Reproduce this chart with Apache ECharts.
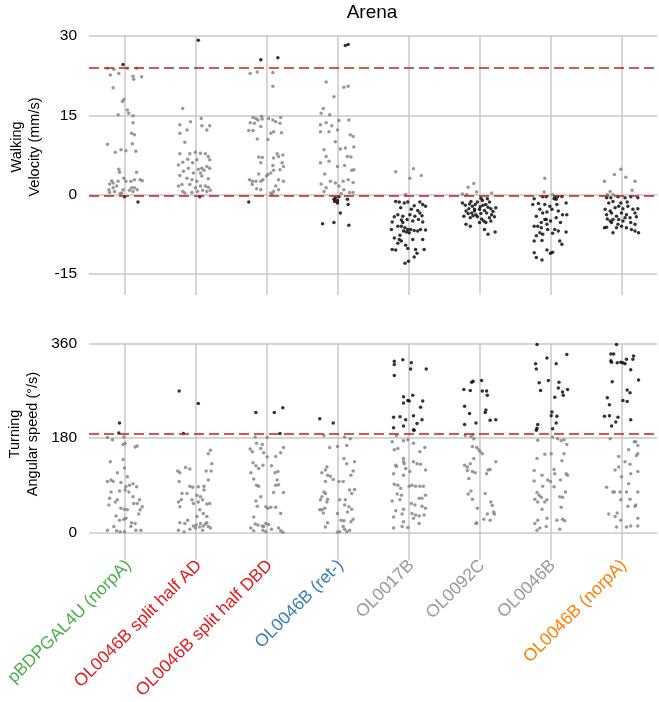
<!DOCTYPE html>
<html><head><meta charset="utf-8">
<script src="https://cdn.jsdelivr.net/npm/echarts@6/dist/echarts.min.js"></script>
<style>html,body{margin:0;padding:0;background:#fff}#c{width:659px;height:702px}</style>
</head><body><div id="c"></div>
<script>
const categories = ['pBDPGAL4U (norpA)','OL0046B split half AD','OL0046B split half DBD','OL0046B (ret-)','OL0017B','OL0092C','OL0046B','OL0046B (norpA)'];
const labelColors = ['#4DAF4A','#E41A1C','#E41A1C','#377EB8','#999999','#999999','#999999','#FF7F00'];
const walkTicks = [-15, 0, 15, 30];
const turnTicks = [0, 180, 360];
const walkThresholds = [24, -0.3];
const turnThresholds = [188];

// each point: [jitter offset in category units, value]
const walk0 = [[-0.02,24.6],[0.19,-1.4],[0,-0.4],[-0.24,23.9],[-0.2,22.6],[-0.15,23.7],[-0.08,22.9],[0.04,23.9],[0.12,22.4],[0.13,21.8],[0.17,23.9],[0.24,22.3],[-0.16,20.2],[-0.03,17.6],[-0.01,18.0],[-0.09,15.1],[0.04,16.0],[0.06,15.4],[0.12,14.9],[0.12,13.6],[0.1,11.6],[0.14,11.3],[0.11,9.6],[-0.24,9.5],[-0.13,8.0],[-0.05,8.5],[0.02,8.3],[0.16,8.2],[-0.08,4.8],[-0.07,4.2],[0.17,4.2],[-0.18,2.6],[-0.16,2.2],[-0.21,2.0],[-0.09,2.5],[-0.01,3.1],[0.02,2.5],[0.09,2.5],[0.14,2.8],[0.22,2.8],[0.25,2.6],[-0.22,0.9],[-0.21,0.4],[-0.16,1.3],[-0.14,0.6],[-0.11,1.6],[-0.04,0.3],[-0.02,0.9],[0.07,0.8],[0.12,0.6],[0.14,1.3],[0.18,0.9],[-0.06,0.2],[0.1,1.3]];
const walk1 = [[0.04,29.2],[0.06,-0.4],[-0.18,16.3],[-0.22,13.2],[-0.07,13.8],[0.08,14.4],[0.09,13.0],[0.2,13.0],[0.16,12.2],[-0.12,12.2],[-0.22,11.6],[-0.15,9.9],[-0.22,7.7],[-0.08,7.7],[0,8.0],[0.07,7.8],[0.14,7.7],[0.18,7.2],[0.2,6.6],[-0.24,5.6],[-0.18,6.1],[-0.11,6.7],[-0.04,6.0],[0.02,6.6],[0.09,5.0],[0.16,5.3],[0.2,5.0],[-0.17,4.4],[-0.1,5.0],[-0.03,4.1],[0.04,4.8],[0.07,4.1],[0.12,4.6],[-0.22,3.6],[-0.12,3.1],[-0.05,2.8],[0.02,2.5],[0.09,3.5],[0.18,3.0],[-0.19,1.9],[-0.08,1.9],[0,1.3],[0.07,1.6],[0.14,1.6],[0.18,1.4],[-0.18,0.6],[-0.05,0.4],[0.03,0.6],[0.1,0.8],[0.16,0.6],[0.21,0.8],[-0.15,0.3],[-0.24,1.6]];
const walk2 = [[-0.08,25.5],[0.16,25.9],[-0.25,-1.4],[-0.23,22.9],[-0.13,23.2],[0.09,23.1],[0.09,20.5],[-0.19,14.6],[-0.15,14.4],[-0.12,14.1],[-0.07,14.8],[-0.06,14.3],[0.03,14.4],[0.09,14.1],[0.2,14.6],[-0.23,13.6],[-0.17,13.5],[-0.08,12.9],[0.13,13.8],[0.19,13.5],[-0.25,12.1],[-0.19,12.1],[0.06,11.6],[0.1,11.9],[0.21,11.7],[-0.13,10.5],[0.02,10.4],[-0.11,7.1],[-0.06,7.0],[-0.08,6.0],[0.1,6.9],[0.15,7.7],[0.17,7.2],[0.23,7.5],[0.09,5.5],[0.22,6.0],[0.24,5.3],[0.19,4.7],[0.1,4.6],[0.06,4.1],[0.02,3.8],[-0.11,3.9],[-0.24,2.8],[-0.2,2.5],[-0.15,2.5],[-0.08,2.5],[-0.05,2.8],[0,3.5],[0.17,2.8],[0.24,2.5],[-0.14,1.1],[-0.08,0.9],[0.06,0.3],[0.1,0.6],[0.17,0.9],[-0.2,1.9],[0.13,1.6],[0.08,0.05]];
const walk3 = [[0.11,28.2],[0.15,28.4],[-0.05,-0.9],[-0.03,-0.6],[0,-1.1],[0.02,-0.4],[-0.04,-1.3],[0.14,-0.9],[0.15,-1.9],[0.04,-3.5],[-0.21,-5.5],[-0.05,-5.3],[0.16,-5.8],[0,-1.6],[-0.16,21.3],[-0.05,18.5],[0.09,20.3],[0.15,20.5],[-0.2,16.3],[-0.23,15.4],[-0.11,15.1],[0.02,14.0],[-0.24,13.2],[-0.16,13.6],[-0.08,13.0],[0.16,14.1],[0,12.2],[0.18,11.3],[0.22,11.0],[-0.24,11.9],[-0.12,11.9],[-0.03,10.0],[-0.19,8.5],[0.04,8.6],[0.11,8.8],[0.23,9.0],[-0.16,7.2],[0.14,7.2],[0.19,7.1],[-0.24,6.0],[-0.12,6.3],[0,5.3],[0.1,5.5],[0.2,4.6],[0.23,4.7],[-0.18,3.9],[-0.1,2.5],[-0.03,2.2],[0.08,2.5],[0.15,2.8],[0.22,2.3],[-0.23,2.0],[-0.16,1.3],[0.02,1.6],[0.09,0.9],[0.17,0.4],[0.22,0.4],[-0.19,0.6],[0.05,0.2]];
const walk4 = [[-0.18,4.3],[0.07,4.9],[0.02,3.1],[0.18,3.6],[-0.04,0],[-0.18,-1.3],[-0.13,-1.4],[-0.06,-1.6],[-0.01,-1.4],[0.16,-1.4],[0.2,-1.9],[0.24,-2.2],[0.08,-2.1],[-0.11,-2.5],[0.04,-2.8],[0.13,-3.0],[0.16,-3.5],[-0.2,-4.2],[-0.15,-3.8],[-0.08,-4.1],[0.02,-3.8],[0.09,-4.1],[0.19,-4.0],[-0.23,-5.2],[-0.1,-4.8],[-0.02,-4.7],[0.06,-5.0],[0.14,-4.7],[0.2,-5.2],[-0.15,-6.0],[-0.1,-6.0],[-0.05,-6.3],[-0.01,-6.6],[0.03,-6.6],[0.08,-6.8],[0.13,-6.9],[0.17,-6.6],[0.24,-6.7],[-0.24,-6.6],[-0.07,-6.9],[-0.03,-7.1],[-0.12,-7.7],[0.06,-8.5],[0.2,-8.5],[-0.2,-8.2],[-0.13,-8.5],[-0.1,-8.8],[-0.15,-9.2],[-0.04,-9.6],[-0.23,-10.4],[-0.18,-10.5],[-0.01,-10.2],[0.1,-10.4],[0.22,-10.4],[0.12,-11.1],[0.08,-11.8],[0,-12.6],[-0.05,-13.0],[0.01,-7.2],[-0.08,-5.3]];
const walk5 = [[-0.24,0.1],[-0.16,1.4],[-0.08,2.1],[-0.04,0.5],[-0.18,0],[0.17,0.3],[-0.24,-1.6],[-0.12,-1.3],[-0.03,-1.4],[0.04,-1.1],[0.11,-0.8],[0.14,-1.4],[0.09,-1.9],[-0.1,-2.2],[-0.15,-2.7],[-0.19,-3.1],[-0.07,-3.1],[0,-2.8],[0.07,-3.0],[0.16,-2.7],[0.23,-2.5],[-0.16,-3.6],[-0.11,-3.5],[-0.05,-3.8],[0.02,-3.6],[0.1,-3.5],[0.17,-3.8],[-0.22,-4.1],[-0.13,-4.4],[-0.03,-4.2],[0.03,-4.6],[0.14,-4.4],[0.21,-4.2],[0.06,-5.0],[0.16,-5.0],[0.09,-5.3],[-0.19,-5.6],[-0.13,-6.0],[0,-5.3],[0.07,-6.6],[0.12,-7.5],[0.22,-7.1],[-0.07,-2.8],[0.01,-2.3],[-0.2,-2.0],[-0.06,-1.9],[0.05,-2.0],[0.12,-2.4],[-0.09,-4.0],[0.19,-3.2],[-0.14,-1.8],[0.02,-0.7]];
const walk6 = [[-0.08,3.1],[-0.09,0.5],[0.03,0],[-0.23,-0.8],[-0.11,-0.4],[-0.06,-0.4],[0.06,-0.4],[0.1,-0.4],[0.16,-0.35],[0.05,-0.8],[0.08,-0.9],[-0.25,-1.9],[-0.17,-1.7],[-0.08,-1.9],[-0.01,-2.2],[0.09,-1.9],[0.22,-1.6],[-0.15,-2.8],[-0.11,-3.5],[-0.05,-3.3],[0.02,-2.8],[0.11,-3.1],[0.17,-3.8],[0.23,-3.8],[-0.2,-4.1],[-0.08,-4.7],[0,-5.0],[0.08,-4.4],[0.14,-5.3],[-0.23,-6.0],[-0.18,-6.0],[-0.13,-6.3],[-0.05,-5.6],[0.06,-6.6],[0.11,-6.9],[0.22,-7.1],[-0.15,-7.2],[-0.11,-7.5],[-0.2,-7.8],[-0.04,-6.6],[0.03,-7.3],[-0.23,-8.8],[-0.12,-8.7],[0.13,-8.8],[0.16,-9.4],[-0.05,-10.5],[0,-11.1],[0.03,-10.9],[-0.23,-11.0],[-0.2,-11.9],[-0.12,-12.4],[-0.06,-4.7],[-0.13,-5.3]];
const walk7 = [[-0.24,2.5],[-0.1,3.8],[-0.01,4.8],[0.06,3.3],[0.19,2.5],[0.15,0.8],[-0.16,0.6],[-0.2,0],[-0.12,0],[-0.21,-0.6],[-0.15,-0.6],[-0.05,-0.4],[0.05,-0.6],[0.13,-0.4],[0.23,-0.6],[-0.18,-1.6],[-0.12,-1.3],[-0.01,-1.6],[0.08,-1.4],[-0.23,-2.8],[-0.16,-3.1],[-0.09,-2.5],[-0.04,-2.2],[0.02,-2.7],[0.09,-2.2],[0.16,-2.8],[0.23,-2.7],[-0.21,-3.8],[-0.14,-3.5],[-0.07,-4.1],[0,-3.5],[0.07,-3.8],[0.19,-3.5],[-0.2,-4.6],[-0.12,-4.7],[-0.04,-4.7],[0.05,-4.4],[0.12,-4.4],[0.21,-4.2],[-0.14,-5.3],[-0.05,-5.6],[0.02,-5.0],[0.13,-5.3],[0.19,-5.6],[-0.24,-6.3],[-0.21,-6.2],[-0.07,-6.3],[0,-6.0],[0.07,-6.3],[0.14,-6.6],[-0.12,-7.2],[0.19,-6.9],[0.24,-7.2],[-0.16,-5.0]];

const turn0 = [[-0.07,209],[-0.08,190],[-0.24,181],[-0.17,177],[-0.01,182],[-0.02,168],[0.01,170],[0.15,163],[0.18,165],[-0.2,135],[-0.02,139],[0,123],[-0.1,114],[-0.24,97],[-0.19,100],[-0.16,97],[-0.05,95],[0.02,87],[0.07,90],[0.12,93],[0.17,87],[-0.19,77],[-0.07,79],[0.01,81],[0.06,77],[-0.21,65],[-0.13,58],[-0.22,52],[0.13,55],[0.18,55],[0.21,62],[-0.05,46],[0,44],[0.04,43],[0.22,43],[0.25,49],[-0.12,31],[-0.07,23],[-0.01,25],[0.02,27],[0.1,18],[0.15,17],[0.09,11],[0.16,4],[0.23,4],[-0.24,4],[-0.11,3],[-0.06,1],[0,1],[-0.15,11],[0.2,35],[0.12,68],[-0.1,62],[0.04,106]];
const turn1 = [[-0.23,270],[0.04,246],[-0.17,189],[0.21,157],[0.18,150],[0.23,131],[0.15,117],[0.22,117],[-0.25,117],[-0.22,114],[-0.14,124],[-0.08,121],[0.18,100],[-0.08,88],[-0.04,86],[0.04,87],[0.12,88],[0.12,81],[-0.23,97],[-0.19,74],[-0.12,74],[0.02,71],[0.07,68],[-0.05,62],[-0.03,55],[0.04,58],[0.1,62],[0.16,54],[-0.24,58],[-0.2,62],[-0.22,49],[0.2,55],[0.06,43],[0.11,36],[0.02,30],[0.16,30],[-0.22,18],[-0.15,17],[-0.11,23],[-0.03,12],[0.01,14],[0.07,17],[0.11,12],[0.16,18],[0.18,11],[0.14,16],[-0.24,4],[-0.16,1],[-0.08,6],[0,8],[0.06,10],[0.21,8],[0.1,4]];
const turn2 = [[-0.15,229],[0.11,229],[0.23,238],[0.19,189],[-0.16,182],[0.01,181],[-0.14,170],[-0.06,168],[-0.23,159],[-0.2,154],[-0.08,160],[-0.04,152],[0.24,162],[0.2,152],[0.13,145],[0.01,144],[-0.19,133],[-0.15,127],[-0.05,128],[-0.11,122],[-0.22,114],[0.07,127],[0.16,116],[0.12,114],[-0.18,102],[0.15,100],[0.17,91],[-0.14,90],[-0.11,88],[0.13,90],[0.1,76],[0.24,76],[-0.08,68],[-0.15,60],[-0.13,50],[-0.01,49],[0.02,46],[0.06,48],[0.13,48],[0.2,36],[-0.18,29],[-0.16,16],[-0.12,14],[-0.06,12],[-0.01,17],[0.03,15],[0.07,6],[-0.22,8],[-0.18,3],[-0.05,4],[-0.01,1],[0.17,8],[0.2,3],[0.23,0],[-0.04,11]];
const turn3 = [[-0.25,217],[-0.06,209],[-0.19,185],[0.1,182],[0.18,179],[0.13,166],[-0.11,162],[0,164],[0.09,141],[0.24,135],[0.13,131],[-0.15,125],[-0.17,119],[-0.22,114],[-0.14,109],[-0.1,107],[-0.17,97],[-0.06,101],[0.02,97],[0.08,97],[0.19,109],[0.22,117],[0.17,81],[0.24,82],[0.2,74],[-0.19,77],[-0.17,74],[-0.22,68],[-0.14,63],[-0.24,62],[-0.15,58],[-0.18,46],[-0.22,43],[-0.25,43],[-0.2,37],[0.03,62],[0.11,62],[0.1,52],[0.16,49],[0.2,44],[0.14,39],[0,36],[0.05,23],[0.09,22],[0.19,20],[0.22,25],[-0.14,18],[-0.17,10],[0,0],[0.03,1],[0.1,6],[0.13,1],[0.08,11],[0.17,4]];
const turn4 = [[-0.2,327],[-0.2,321],[-0.08,330],[0.04,324],[0.03,312],[0.25,312],[-0.2,300],[0.06,262],[-0.07,259],[-0.01,252],[-0.07,247],[0.01,251],[0.2,251],[0.17,239],[-0.21,220],[-0.12,221],[-0.04,215],[0.07,223],[0.19,215],[0.12,208],[-0.21,200],[-0.07,203],[0.07,196],[0.08,195],[-0.23,173],[-0.17,185],[-0.07,175],[-0.01,177],[0.07,170],[-0.2,158],[-0.15,160],[0.16,154],[0.23,162],[-0.07,141],[-0.07,135],[-0.06,131],[0.07,135],[0.12,131],[0.17,130],[-0.18,128],[-0.17,126],[0.24,119],[-0.04,122],[0.02,116],[-0.07,109],[-0.21,112],[-0.2,92],[-0.15,90],[-0.11,84],[0.01,88],[0.05,90],[0.1,88],[0.16,88],[0.21,88],[-0.16,73],[-0.1,71],[-0.12,62],[-0.23,60],[0.15,65],[0.19,65],[0.24,71],[0.04,55],[0.09,52],[0.19,50],[0.24,46],[-0.18,41],[-0.07,44],[0.05,36],[0.1,33],[0.15,31],[0.22,33],[-0.09,35],[-0.21,29],[0.07,27],[-0.07,20],[0.15,17],[-0.21,8],[-0.09,11],[-0.01,9]];
const turn5 = [[-0.22,273],[-0.13,271],[-0.11,287],[-0.09,289],[0.03,290],[0.04,270],[0.1,270],[0.11,262],[-0.21,241],[0.09,234],[0.08,229],[-0.14,227],[0.15,214],[0.23,215],[-0.05,209],[-0.21,206],[-0.2,185],[-0.12,183],[-0.09,187],[-0.08,179],[-0.1,164],[-0.04,162],[-0.01,158],[0.01,154],[0.04,150],[-0.08,141],[0.23,135],[-0.21,128],[-0.17,125],[-0.13,131],[-0.1,116],[-0.06,114],[-0.17,118],[0.12,119],[0.1,112],[0.15,120],[-0.15,103],[0.08,74],[-0.12,79],[-0.16,73],[-0.1,63],[-0.03,46],[0.16,58],[0.18,51],[0.2,39],[0.21,35],[0.11,35],[0.06,25],[0.15,23],[-0.04,18],[-0.05,17]];
const turn6 = [[-0.19,359],[-0.21,322],[-0.2,312],[-0.05,333],[0.23,340],[0.08,322],[-0.16,286],[-0.03,290],[-0.14,271],[0.12,287],[0.11,276],[0.24,273],[0.17,268],[0.18,262],[0.06,258],[0.02,230],[0.01,223],[0.09,222],[0.08,209],[-0.18,206],[-0.19,199],[-0.2,195],[0.03,198],[-0.18,176],[0.03,182],[0.1,179],[0.15,175],[0.19,177],[0.23,168],[-0.19,141],[-0.08,149],[0.01,150],[0.19,150],[0.16,137],[-0.23,118],[-0.12,109],[-0.04,100],[0,97],[0.05,120],[0.06,112],[0.22,112],[0.24,109],[0.14,100],[-0.23,98],[-0.11,88],[0.05,87],[-0.19,76],[-0.16,71],[-0.13,67],[-0.08,58],[-0.05,62],[-0.22,63],[-0.18,58],[0.13,68],[0.17,67],[0.21,77],[0.15,48],[-0.12,44],[-0.05,27],[0.09,23],[0.17,25],[-0.18,23],[-0.22,17],[-0.15,8],[-0.06,11],[-0.19,4],[0.13,6],[0.2,22]];
const turn7 = [[-0.07,359],[-0.15,341],[-0.11,341],[-0.15,328],[-0.14,325],[-0.06,324],[-0.01,325],[0.02,324],[0.05,322],[0.07,331],[0.16,331],[0.17,337],[0.13,311],[-0.13,288],[0.24,291],[-0.2,257],[-0.17,244],[0.02,252],[0.08,250],[0.08,272],[0.12,267],[-0.24,222],[-0.17,223],[-0.05,220],[-0.08,211],[-0.14,203],[0.13,215],[-0.16,179],[0.2,173],[0.23,166],[-0.04,145],[0.1,158],[0.21,147],[0.23,150],[0.05,135],[0.12,130],[-0.04,125],[-0.09,119],[0.13,112],[0.23,116],[0,106],[0.1,93],[-0.21,86],[-0.12,77],[-0.1,77],[-0.02,77],[0.07,77],[0.23,77],[-0.01,62],[0.09,50],[0.2,52],[-0.18,35],[-0.06,37],[-0.09,30],[-0.01,23],[0.23,27],[-0.07,10],[0.07,10],[0.13,12],[0.23,12],[0.19,50],[0.12,63],[0.18,173]];

const walkSets = [walk0, walk1, walk2, walk3, walk4, walk5, walk6, walk7];
const turnSets = [turn0, turn1, turn2, turn3, turn4, turn5, turn6, turn7];

function toPoints(sets) {
  const out = [];
  sets.forEach((pts, i) => pts.forEach(p => out.push([i + p[0], p[1]])));
  return out;
}

const FONT = "'Liberation Sans', Arial, sans-serif";
const GRID_COLOR = '#c9c9c9';
const RED = '#c62020';
const catIdx = categories.map((_, i) => i);

function valueX(gridIndex) {
  return {
    type: 'value', gridIndex, min: -0.5, max: 7.5,
    axisLine: { show: false },
    axisTick: { show: false, customValues: catIdx },
    axisLabel: { show: false },
    splitLine: { show: true, lineStyle: { color: GRID_COLOR, width: 1.5 } }
  };
}
function valueY(gridIndex, min, max, ticks) {
  return {
    type: 'value', gridIndex, min, max,
    axisLine: { show: false },
    axisTick: { show: false, customValues: ticks },
    axisLabel: { customValues: ticks, fontSize: 15.5, color: '#000', margin: 12, fontFamily: FONT },
    splitLine: { show: true, lineStyle: { color: GRID_COLOR, width: 1.5 } }
  };
}

const chart = echarts.init(document.getElementById('c'), null, { renderer: 'canvas' });
chart.setOption({
  animation: false,
  backgroundColor: '#ffffff',
  title: {
    text: 'Arena', left: 372, top: 3, textAlign: 'center', padding: 0,
    textStyle: { fontFamily: FONT, fontSize: 19, fontWeight: 'normal', color: '#000' }
  },
  grid: [
    { left: 89, top: 36, width: 568, height: 259 },
    { left: 89, top: 344, width: 568, height: 216 },
    { left: 93, top: 344, width: 568, height: 216 }
  ],
  xAxis: [
    valueX(0),
    valueX(1),
    {
      type: 'category', gridIndex: 2, data: categories, position: 'bottom',
      axisLine: { show: false }, axisTick: { show: false }, splitLine: { show: false },
      axisLabel: {
        interval: 0, rotate: 45, margin: 18, fontSize: 17.5, fontFamily: FONT,
        color: (v, i) => labelColors[i]
      }
    }
  ],
  yAxis: [
    valueY(0, -19, 30, walkTicks),
    valueY(1, -53, 360, turnTicks),
    { type: 'value', gridIndex: 2, show: false, min: -53, max: 360, splitLine: { show: false } }
  ],
  graphic: [
    { type: 'text', x: 26, y: 147, rotation: Math.PI / 2,
      style: { text: 'Walking\nVelocity (mm/s)', fontSize: 14.5, fontFamily: FONT, fill: '#000', align: 'center', verticalAlign: 'middle', lineHeight: 18 } },
    { type: 'text', x: 24, y: 434, rotation: Math.PI / 2,
      style: { text: 'Turning\nAngular speed (°/s)', fontSize: 14.5, fontFamily: FONT, fill: '#000', align: 'center', verticalAlign: 'middle', lineHeight: 18 } }
  ],
  series: [
    {
      type: 'scatter', xAxisIndex: 0, yAxisIndex: 0, data: toPoints(walkSets),
      symbolSize: 3.5, silent: true,
      itemStyle: { color: p => (p.value[1] > walkThresholds[0] || p.value[1] < walkThresholds[1]) ? '#000000' : '#7f7f7f' },
      markLine: {
        silent: true, symbol: ['none', 'none'], label: { show: false },
        lineStyle: { color: RED, type: [10, 5], width: 1.5 },
        data: walkThresholds.map(v => ({ yAxis: v }))
      }
    },
    {
      type: 'scatter', xAxisIndex: 1, yAxisIndex: 1, data: toPoints(turnSets),
      symbolSize: 3.5, silent: true,
      itemStyle: { color: p => (p.value[1] > turnThresholds[0]) ? '#000000' : '#7f7f7f' },
      markLine: {
        silent: true, symbol: ['none', 'none'], label: { show: false },
        lineStyle: { color: RED, type: [10, 5], width: 1.5 },
        data: turnThresholds.map(v => ({ yAxis: v }))
      }
    }
  ]
});
</script>
</body></html>
